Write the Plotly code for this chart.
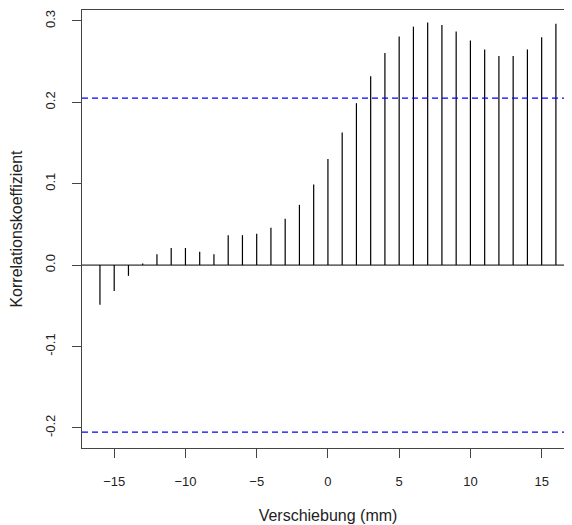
import plotly.graph_objects as go

lags = list(range(-16, 17))
acf_values = [-0.0487, -0.0318, -0.0132, 0.002, 0.0132, 0.021, 0.021, 0.0165, 0.0132,
              0.0368, 0.0368, 0.0384, 0.0458, 0.057, 0.074, 0.099, 0.1305,
              0.163, 0.199, 0.232, 0.2606, 0.281, 0.293, 0.298, 0.295, 0.287,
              0.276, 0.265, 0.257, 0.257, 0.265, 0.280, 0.2966]
conf_limit = 0.2052
x_ticks = [-15, -10, -5, 0, 5, 10, 15]
y_ticks = [-0.2, -0.1, 0.0, 0.1, 0.2, 0.3]
y_ticktext = ["-0.2", "-0.1", "0.0", "0.1", "0.2", "0.3"]

xs, ys = [], []
for lag, v in zip(lags, acf_values):
    xs += [lag, lag, None]
    ys += [0, v, None]

fig = go.Figure()
fig.add_trace(go.Scatter(x=xs, y=ys, mode="lines",
                         line=dict(color="black", width=1.2), hoverinfo="skip",
                         showlegend=False))

fig.add_shape(type="line", xref="paper", x0=0, x1=1, yref="y", y0=0, y1=0,
              line=dict(color="black", width=1))
for c in (conf_limit, -conf_limit):
    fig.add_shape(type="line", xref="paper", x0=0, x1=1, yref="y", y0=c, y1=c,
                  line=dict(color="#0000ff", width=1.2, dash="6px,4px"))

font = dict(family="Liberation Sans, Arial, sans-serif", size=13, color="#222")
fig.update_layout(
    width=566, height=517,
    margin=dict(l=74, r=0, t=2, b=77),
    plot_bgcolor="white", paper_bgcolor="white",
    font=font,
    xaxis=dict(range=[-17.26, 17.27], tickvals=x_ticks, ticks="outside", ticklen=9,
               tickcolor="#444", showline=True, linecolor="#444", linewidth=1,
               mirror=True, showgrid=False, zeroline=False, automargin=False,
               title=dict(text="Verschiebung (mm)", standoff=22),
               ticklabelstandoff=12),
    yaxis=dict(range=[-0.2248, 0.3135], tickvals=y_ticks, ticktext=y_ticktext,
               ticks="outside", ticklen=9, tickcolor="#444", tickangle=-90,
               showline=True, linecolor="#444", linewidth=1, mirror=True,
               showgrid=False, zeroline=False, automargin=False,
               title=dict(text="Korrelationskoeffizient", standoff=16),
               ticklabelstandoff=12),
)
fig.write_html("out.html")
